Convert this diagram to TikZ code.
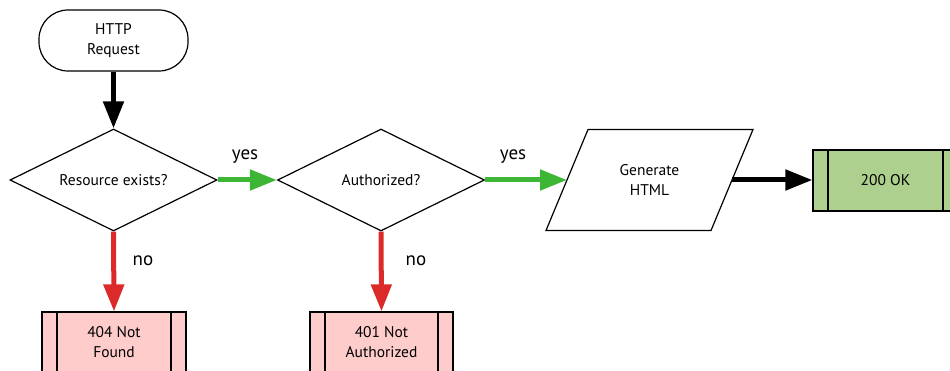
\documentclass[tikz,border=0pt]{standalone}
\usepackage{fontspec}
\setmainfont{PT Sans}
\usetikzlibrary{arrows.meta,shapes.geometric}
\definecolor{arrgreen}{HTML}{3DB535}
\definecolor{arrred}{HTML}{DC2A2A}
\definecolor{pinkfill}{HTML}{FFCCCC}
\definecolor{okfill}{HTML}{AED08E}
\begin{document}
\begin{tikzpicture}[x=1pt,y=-1pt,
  base/.style={draw=black, line width=1.2pt, font=\fontsize{15.5}{20}\selectfont, align=center, inner sep=0pt},
  term/.style={base, rectangle, rounded corners=29pt, minimum width=149pt, minimum height=61pt},
  decision/.style={base, diamond, aspect=2, minimum width=207pt, minimum height=102pt},
  iotext/.style={base, draw=none, rectangle, minimum width=120pt, minimum height=101pt},
  ioframe/.style={draw=black, line width=1.2pt, line join=miter},
  proc/.style={base, rectangle, minimum width=144pt, minimum height=61pt,
    path picture={
      \draw[line width=1.2pt] ([xshift=15pt]path picture bounding box.north west) -- ([xshift=15pt]path picture bounding box.south west);
      \draw[line width=1.2pt] ([xshift=-15pt]path picture bounding box.north east) -- ([xshift=-15pt]path picture bounding box.south east);
    }},
  flow/.style={line width=5pt, -{Triangle[width=20pt,length=27pt]}},
  lbl/.style={font=\fontsize{19}{20}\selectfont, inner sep=0pt}
]
\useasboundingbox (0,0) rectangle (950,371);
\clip (0,0) rectangle (950,371);

\node[term] (req) at (113.5,40.5) {HTTP\\Request};
\node[decision] (res) at (113.5,180) {Resource exists?};
\node[decision] (auth) at (381,180) {Authorized?};
\node[iotext] (gen) at (649.5,180) {Generate\\HTML};
\draw[ioframe] ([shift={(-61.5,-50.5)}]gen.center) -- ([shift={(103.5,-50.5)}]gen.center)
  -- ([shift={(61.5,50.5)}]gen.center) -- ([shift={(-103.5,50.5)}]gen.center) -- cycle;
\coordinate (genw) at ([xshift=-82.5pt]gen.center);
\coordinate (gene) at ([xshift=82.5pt]gen.center);
\node[proc, fill=okfill, minimum width=145pt] (ok) at (885.5,180.5) {200 OK};
\node[proc, fill=pinkfill] (nf) at (114,342.5) {404 Not\\Found};
\node[proc, fill=pinkfill, minimum width=143pt] (na) at (381.5,342.5) {401 Not\\Authorized};

\draw[flow, black] (req.south) -- (res.north);
\draw[flow, arrgreen] (res.east) -- (auth.west);
\draw[flow, arrgreen] (auth.east) -- (genw);
\draw[flow, black] (gene) -- (gene -| ok.west);
\draw[flow, arrred] (res.south) -- (nf.north);
\draw[flow, arrred] (auth.south) -- (na.north);

\node[lbl] (y1) at (245,157) {yes};
\node[lbl] (y2) at (513,157) {yes};
\node[lbl] (n1) at (143,261) {no};
\node[lbl] (n2) at (416,261) {no};
\end{tikzpicture}
\end{document}
